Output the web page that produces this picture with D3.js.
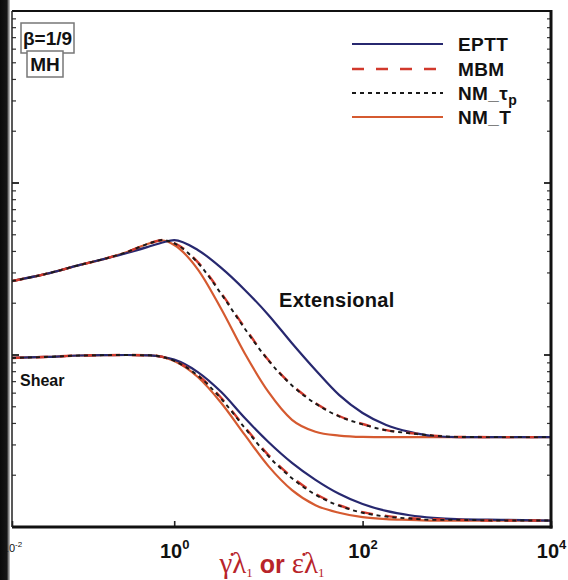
<!DOCTYPE html>
<html>
<head>
<meta charset="utf-8">
<script src="https://cdn.jsdelivr.net/npm/d3@7"></script>
<style>
  html, body { margin: 0; padding: 0; background: #fff; }
  svg { display: block; }
</style>
</head>
<body>
<div id="chart"></div>
<script>
// Dimensionless rate (shear rate or extension rate times relaxation time)
const rate = [0.01, 0.0316, 0.1, 0.178, 0.316, 0.562, 0.75, 1, 1.78, 3.16, 5.62, 10,
              17.8, 31.6, 56.2, 100, 178, 316, 562, 1000, 3160, 10000];

// Extensional viscosity (scaled by zero-shear viscosity)
const extEPTT = [2.69, 2.96, 3.34, 3.61, 3.92, 4.30, 4.51, 4.66, 4.08, 3.21, 2.39, 1.71,
                 1.17, 0.818, 0.586, 0.460, 0.392, 0.357, 0.338, 0.333, 0.333, 0.333];
const extMBM  = [2.69, 2.96, 3.34, 3.61, 3.97, 4.48, 4.66, 4.48, 3.47, 2.29, 1.44, 0.935,
                 0.669, 0.526, 0.442, 0.397, 0.366, 0.352, 0.340, 0.334, 0.333, 0.333];
const extNMtp = [2.69, 2.96, 3.34, 3.61, 3.97, 4.48, 4.66, 4.46, 3.44, 2.26, 1.42, 0.930,
                 0.665, 0.522, 0.440, 0.395, 0.365, 0.351, 0.340, 0.334, 0.333, 0.333];
const extNMT  = [2.69, 2.96, 3.34, 3.61, 3.97, 4.48, 4.63, 4.36, 3.15, 1.85, 1.02, 0.610,
                 0.420, 0.358, 0.340, 0.334, 0.333, 0.333, 0.333, 0.333, 0.333, 0.333];

// Shear viscosity (scaled by zero-shear viscosity)
const shEPTT = [0.961, 0.974, 0.993, 0.998, 1.0, 0.995, 0.975, 0.94, 0.796, 0.609, 0.430, 0.312,
                0.236, 0.188, 0.156, 0.136, 0.124, 0.117, 0.113, 0.111, 0.110, 0.109];
const shMBM  = [0.961, 0.974, 0.993, 0.998, 1.0, 0.995, 0.975, 0.925, 0.765, 0.562, 0.381, 0.262,
                0.195, 0.156, 0.134, 0.122, 0.116, 0.1125, 0.111, 0.110, 0.109, 0.109];
const shNMtp = [0.961, 0.974, 0.993, 0.998, 1.0, 0.995, 0.975, 0.924, 0.760, 0.556, 0.376, 0.258,
                0.192, 0.154, 0.133, 0.121, 0.115, 0.112, 0.110, 0.110, 0.109, 0.109];
const shNMT  = [0.961, 0.974, 0.993, 0.998, 1.0, 0.995, 0.975, 0.923, 0.745, 0.526, 0.343, 0.226,
                0.164, 0.134, 0.121, 0.114, 0.111, 0.110, 0.109, 0.109, 0.109, 0.109];

const xTickValues = [0.01, 1, 100, 10000];
const xTickExp = ["-2", "0", "2", "4"];

const models = [
  { name: "EPTT",  sub: "",  ext: extEPTT, sh: shEPTT, color: "#27286f", dash: null,    width: 2.2 },
  { name: "MBM",   sub: "",  ext: extMBM,  sh: shMBM,  color: "#d1392c", dash: "12,12", width: 2.4 },
  { name: "NM_τ",  sub: "p", ext: extNMtp, sh: shNMtp, color: "#1a1a1a", dash: "4,4",   width: 1.9 },
  { name: "NM_T",  sub: "",  ext: extNMT,  sh: shNMT,  color: "#d55a30", dash: null,    width: 2.2 }
];
const drawOrder = [3, 0, 1, 2];

const W = 568, H = 580;
const plotL = 12, plotR = 551, plotT = 11, plotB = 527;

const svg = d3.select("#chart").append("svg")
  .attr("width", W).attr("height", H)
  .style("font-family", "'Liberation Sans', Arial, Helvetica, sans-serif");

// x: logarithmic, the first decade is squeezed next to the binding
const x = d3.scaleLog().domain([0.01, 0.1, 10000]).range([plotL, 80, plotR]);
const y = d3.scaleLog().domain([0.1, 100]).range([plotB, plotT]);

const line = d3.line()
  .x(d => x(d[0])).y(d => y(d[1]))
  .curve(d3.curveMonotoneX);

svg.append("clipPath").attr("id", "plotClip")
  .append("rect").attr("x", plotL).attr("y", plotT)
  .attr("width", plotR - plotL).attr("height", plotB - plotT);

const curves = svg.append("g").attr("clip-path", "url(#plotClip)");
drawOrder.forEach(i => {
  const m = models[i];
  [m.ext, m.sh].forEach(vals => {
    curves.append("path")
      .attr("d", line(rate.map((r, k) => [r, vals[k]])))
      .attr("fill", "none")
      .attr("stroke", m.color)
      .attr("stroke-width", m.width)
      .attr("stroke-dasharray", m.dash);
  });
});

// y axes: inward ticks, decade ticks longer
const yTicks = y.ticks();
const isDecade = v => Math.abs(Math.log10(v) - Math.round(Math.log10(v))) < 1e-6;
const yAxisL = svg.append("g");
const yAxisR = svg.append("g");
yTicks.forEach(v => {
  const len = isDecade(v) ? 7 : 4;
  yAxisL.append("line").attr("x1", plotL).attr("x2", plotL + len)
    .attr("y1", y(v)).attr("y2", y(v)).attr("stroke", "#333").attr("stroke-width", isDecade(v) ? 2 : 1.2);
  yAxisR.append("line").attr("x1", plotR).attr("x2", plotR - len)
    .attr("y1", y(v)).attr("y2", y(v)).attr("stroke", "#333").attr("stroke-width", isDecade(v) ? 2 : 1.2);
});

// x axis
const xAxis = d3.axisBottom(x)
  .tickValues(xTickValues)
  .tickSize(-6)
  .tickPadding(13)
  .tickFormat(() => "");
const gx = svg.append("g").attr("transform", `translate(0,${plotB})`).call(xAxis);
gx.select(".domain").remove();
gx.selectAll(".tick line").attr("stroke", "#222").attr("stroke-width", 1.6);
gx.selectAll(".tick text").each(function (d, i) {
  const t = d3.select(this)
    .attr("fill", "#111")
    .attr("font-size", i === 0 ? 11 : 20)
    .attr("font-weight", i === 0 ? "normal" : "bold")
    .attr("dy", i === 0 ? "1.1em" : "0.9em");
  t.append("tspan").text("10");
  t.append("tspan").text(xTickExp[i])
    .attr("font-size", i === 0 ? 8 : 13)
    .attr("dy", i === 0 ? "-0.6em" : "-0.7em");
});

// frame
svg.append("line").attr("x1", plotL).attr("x2", plotR).attr("y1", plotT).attr("y2", plotT)
  .attr("stroke", "#111").attr("stroke-width", 2);
svg.append("line").attr("x1", plotR).attr("x2", plotR).attr("y1", plotT - 1).attr("y2", plotB + 1.5)
  .attr("stroke", "#111").attr("stroke-width", 3);
svg.append("line").attr("x1", plotL).attr("x2", plotR + 1.5).attr("y1", plotB).attr("y2", plotB)
  .attr("stroke", "#111").attr("stroke-width", 3);
svg.append("line").attr("x1", plotL).attr("x2", plotL).attr("y1", plotT).attr("y2", plotB)
  .attr("stroke", "#222").attr("stroke-width", 1.5);

// legend
const legend = svg.append("g");
const legY = [44, 69, 93, 117];
models.forEach((m, i) => {
  legend.append("line")
    .attr("x1", 352).attr("x2", 443).attr("y1", legY[i]).attr("y2", legY[i])
    .attr("stroke", m.color).attr("stroke-width", m.width)
    .attr("stroke-dasharray", m.dash);
  const t = legend.append("text")
    .attr("x", 458).attr("y", legY[i] + 7)
    .attr("font-size", 19).attr("font-weight", "bold").attr("fill", "#111")
    .attr("letter-spacing", 0.4);
  t.append("tspan").text(m.name);
  if (m.sub) t.append("tspan").text(m.sub).attr("font-size", 14).attr("dy", 5);
});

// parameter boxes
const boxes = [
  { label: "β=1/9", x: 21, y: 23, w: 53, h: 30 },
  { label: "MH",    x: 27, y: 51, w: 36, h: 26 }
];
boxes.forEach(b => {
  svg.append("rect").attr("x", b.x).attr("y", b.y).attr("width", b.w).attr("height", b.h)
    .attr("fill", "#fff").attr("stroke", "#777").attr("stroke-width", 1.5);
  svg.append("text").attr("x", b.x + b.w / 2).attr("y", b.y + b.h / 2 + 7)
    .attr("text-anchor", "middle").attr("font-size", 19).attr("font-weight", "bold")
    .attr("fill", "#111").text(b.label);
});

// curve family labels
svg.append("text").attr("x", 279).attr("y", 307)
  .attr("font-size", 20).attr("font-weight", "bold").attr("fill", "#111")
  .attr("letter-spacing", 0.3).text("Extensional");
svg.append("text").attr("x", 20).attr("y", 386)
  .attr("font-size", 16).attr("font-weight", "bold").attr("fill", "#111").text("Shear");

// x axis title
const title = svg.append("text").attr("x", 272).attr("y", 573)
  .attr("text-anchor", "middle").attr("fill", "#b8242a").attr("font-size", 29);
title.append("tspan").text("γ̇λ").attr("font-family", "'Liberation Serif', 'DejaVu Serif', serif");
title.append("tspan").text("1").attr("font-size", 13).attr("dy", 4)
  .attr("font-family", "'Liberation Serif', serif");
title.append("tspan").text(" or ").attr("dy", -4).attr("font-weight", "bold").attr("font-size", 25);
title.append("tspan").text("ε̇λ").attr("font-family", "'Liberation Serif', 'DejaVu Serif', serif");
title.append("tspan").text("1").attr("font-size", 13).attr("dy", 4)
  .attr("font-family", "'Liberation Serif', serif");

// binding shadow along the left edge of the page
const grad = svg.append("defs").append("linearGradient").attr("id", "bind")
  .attr("x1", 0).attr("x2", 1).attr("y1", 0).attr("y2", 0);
grad.append("stop").attr("offset", 0).attr("stop-color", "#0a0a0a");
grad.append("stop").attr("offset", 0.7).attr("stop-color", "#151515");
grad.append("stop").attr("offset", 1).attr("stop-color", "#777").attr("stop-opacity", 0.4);
svg.append("rect").attr("x", 0).attr("y", 0).attr("width", 10).attr("height", H)
  .attr("fill", "url(#bind)");
</script>
</body>
</html>
